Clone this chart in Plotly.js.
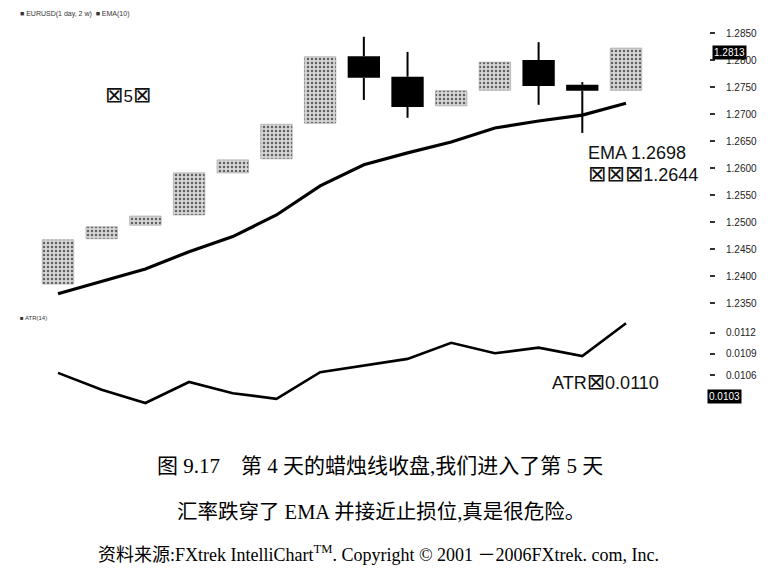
<!DOCTYPE html>
<html>
<head>
<meta charset="utf-8">
<script src="https://cdn.plot.ly/plotly-3.0.1.min.js"></script>
<style>html,body{margin:0;padding:0;background:#fff;}#chart{width:779px;height:573px;}</style>
</head>
<body>
<div id="chart"></div>
<script>
// ---- data ----
var days  = [1,2,3,4,5,6,7,8,9,10,11,12,13,14];
var open  = [1.2385,1.2469,1.2494,1.2513,1.2591,1.2617,1.2683,1.2807,1.2769,1.2715,1.2744,1.2800,1.2754,1.2744];
var high  = [1.2467,1.2491,1.2511,1.2591,1.2615,1.2681,1.2806,1.2843,1.2815,1.2743,1.2796,1.2833,1.2759,1.2822];
var low   = [1.2385,1.2469,1.2494,1.2513,1.2591,1.2617,1.2683,1.2726,1.2693,1.2715,1.2744,1.2717,1.2665,1.2744];
var close = [1.2467,1.2491,1.2511,1.2591,1.2615,1.2681,1.2806,1.2767,1.2713,1.2743,1.2796,1.2752,1.2743,1.2822];
var ema   = [1.2367,1.2390,1.2413,1.2445,1.2473,1.2513,1.2567,1.2606,1.2628,1.2648,1.2674,1.2687,1.2698,1.2720];
var atr   = [0.01063,0.01039,0.01020,0.01050,0.01034,0.01026,0.01064,0.01073,0.01083,0.01106,0.01091,0.01099,0.01087,0.01134];
var priceTicks = [1.2350,1.2400,1.2450,1.2500,1.2550,1.2600,1.2650,1.2700,1.2750,1.2800,1.2850];
var atrTicks   = [0.0106,0.0109,0.0112];
var lastPriceLabel = "1.2813";
var lastAtrLabel   = "0.0103";
var legendText = "■ EURUSD(1 day, 2 w)  ■ EMA(10)";
var atrLegend  = "■ ATR(14)";
var BOX = '<span style="font-size:22px">⊠</span>';
var noteDay    = BOX + "5" + BOX;
var noteEma    = "EMA 1.2698";
var noteStop   = BOX + BOX + BOX + "1.2644";
var noteAtr    = "ATR" + BOX + "0.0110";
var caption1 = "图 9.17　第 4 天的蜡烛线收盘,我们进入了第 5 天";
var caption2 = "汇率跌穿了 EMA 并接近止损位,真是很危险。";
var caption3 = "资料来源:FXtrek IntelliChart<sup>TM</sup>. Copyright © 2001 －2006FXtrek. com, Inc.";

// ---- build traces ----
var upX=[],upB=[],upH=[],dnX=[],dnB=[],dnH=[],wx=[],wy=[];
for (var i=0;i<days.length;i++){
  var lo=Math.min(open[i],close[i]), hi=Math.max(open[i],close[i]);
  if (close[i]>=open[i]){upX.push(days[i]);upB.push(lo);upH.push(hi-lo);}
  else {dnX.push(days[i]);dnB.push(lo);dnH.push(hi-lo);}
  if (high[i]>hi){wx.push(days[i],days[i],null); wy.push(hi,high[i],null);}
  if (low[i]<lo){wx.push(days[i],days[i],null); wy.push(low[i],lo,null);}
}
var traces = [
  {type:'scatter',mode:'lines',x:wx,y:wy,line:{color:'#000',width:2},hoverinfo:'skip',xaxis:'x',yaxis:'y'},
  {type:'bar',x:upX,base:upB,y:upH,width:0.72,xaxis:'x',yaxis:'y',
   marker:{color:'#d0d0d0',line:{color:'#9a9a9a',width:0.6},
     pattern:{shape:'.',fgcolor:'#606060',bgcolor:'#d6d6d6',size:4,solidity:0.3}}},
  {type:'bar',x:dnX,base:dnB,y:dnH,width:0.74,xaxis:'x',yaxis:'y',marker:{color:'#000',line:{width:0}}},
  {type:'scatter',mode:'lines',x:days,y:ema,line:{color:'#000',width:3.2},xaxis:'x',yaxis:'y'},
  {type:'scatter',mode:'lines',x:days,y:atr,line:{color:'#000',width:2.6},xaxis:'x',yaxis:'y2'}
];

var H=573, L=10, R=70, PW=779-L-R;
function py(p){return 1-p/H;}
function px(p){return (p-L)/PW;}
var tickFont={family:'Liberation Sans, Arial, sans-serif',size:10,color:'#222'};
var layout = {
  width:779,height:573,margin:{l:L,r:R,t:0,b:0},
  paper_bgcolor:'#fff',plot_bgcolor:'#fff',showlegend:false,barmode:'overlay',
  xaxis:{range:[-0.0986,15.90],visible:false,anchor:'y2',fixedrange:true},
  yaxis:{domain:[py(310),py(5)],range:[1.233704,1.290185],side:'right',showgrid:false,zeroline:false,
    showline:false,ticks:'outside',ticklen:5,tickwidth:1.5,tickcolor:'#333',tickvals:priceTicks,
    ticktext:priceTicks.map(function(v){return v.toFixed(4);}),tickfont:tickFont,ticklabelstandoff:9},
  yaxis2:{domain:[py(410),py(315)],range:[0.0101,0.011457],side:'right',showgrid:false,zeroline:false,
    showline:false,ticks:'outside',ticklen:5,tickwidth:1.5,tickcolor:'#333',tickvals:atrTicks,
    ticktext:atrTicks.map(function(v){return v.toFixed(4);}),tickfont:tickFont,ticklabelstandoff:9,anchor:'x'},
  annotations:[
    {xref:'paper',yref:'y',x:1+3/PW,y:close[close.length-1]-0.0009,xanchor:'left',yanchor:'middle',text:lastPriceLabel,
     showarrow:false,bgcolor:'#000',font:{family:'Liberation Sans, Arial',size:10,color:'#fff'},borderpad:1},
    {xref:'paper',yref:'y2',x:1-2/PW,y:0.0103,xanchor:'left',yanchor:'middle',text:lastAtrLabel,
     showarrow:false,bgcolor:'#000',font:{family:'Liberation Sans, Arial',size:10,color:'#fff'},borderpad:1},
    {xref:'paper',yref:'paper',x:px(18),y:py(14),xanchor:'left',yanchor:'middle',text:legendText,showarrow:false,
     font:{family:'Liberation Sans, Arial',size:7,color:'#333'}},
    {xref:'paper',yref:'paper',x:px(18),y:py(318),xanchor:'left',yanchor:'middle',text:atrLegend,showarrow:false,
     font:{family:'Liberation Sans, Arial',size:6,color:'#333'}},
    {xref:'paper',yref:'paper',x:px(103),y:py(95),xanchor:'left',yanchor:'middle',text:noteDay,showarrow:false,
     font:{family:'Liberation Sans, DejaVu Sans',size:17,color:'#111'}},
    {xref:'paper',yref:'paper',x:px(586),y:py(153),xanchor:'left',yanchor:'middle',text:noteEma,showarrow:false,
     font:{family:'Liberation Sans, DejaVu Sans',size:18,color:'#111'}},
    {xref:'paper',yref:'paper',x:px(586),y:py(173),xanchor:'left',yanchor:'middle',text:noteStop,showarrow:false,
     font:{family:'Liberation Sans, DejaVu Sans',size:18,color:'#111'}},
    {xref:'paper',yref:'paper',x:px(550),y:py(381),xanchor:'left',yanchor:'middle',text:noteAtr,showarrow:false,
     font:{family:'Liberation Sans, DejaVu Sans',size:18,color:'#111'}},
    {xref:'paper',yref:'paper',x:px(380),y:py(466),xanchor:'center',yanchor:'middle',text:caption1,showarrow:false,
     font:{family:'Liberation Serif, Noto Sans CJK SC',size:21,color:'#000'}},
    {xref:'paper',yref:'paper',x:px(381),y:py(512),xanchor:'center',yanchor:'middle',text:caption2,showarrow:false,
     font:{family:'Liberation Serif, Noto Sans CJK SC',size:20.5,color:'#000'}},
    {xref:'paper',yref:'paper',x:px(378),y:py(553),xanchor:'center',yanchor:'middle',text:caption3,showarrow:false,
     font:{family:'Liberation Serif, Noto Sans CJK SC',size:18,color:'#000'}}
  ]
};
Plotly.newPlot('chart',traces,layout,{staticPlot:true,displayModeBar:false});
</script>
</body>
</html>
